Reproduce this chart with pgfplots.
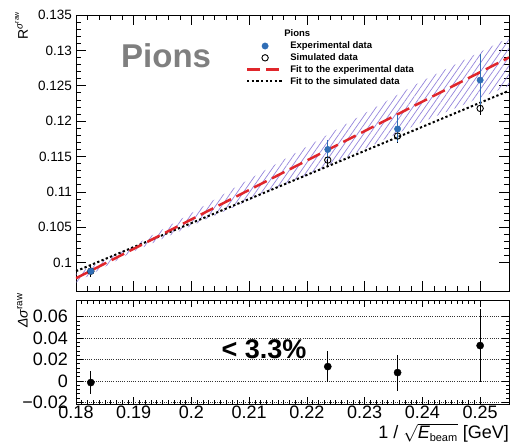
\documentclass[border=0pt]{standalone}
\usepackage{fontspec}
\setmainfont{Liberation Sans}
\usepackage{pgfplots}
\pgfplotsset{compat=1.18}
\usetikzlibrary{patterns.meta}

\definecolor{expblue}{HTML}{2F6DB5}
\definecolor{fitred}{HTML}{E0262B}
\definecolor{hatch}{HTML}{9484DC}
\definecolor{pgray}{HTML}{7F7F7F}

\pgfplotsset{
  legend mark code/.style={legend image code/.code={\draw[##1] plot coordinates {(18pt,0pt)};}},
  legend line code/.style={legend image code/.code={\draw[##1] (0pt,0pt) -- (36pt,0pt);}},
}

% x = 1/sqrt(E_beam), E_beam = 30, 20, 18, 16 GeV
\pgfplotstableread{
x        y       err
0.18257  0.0988  0.0005
0.22361  0.1160  0.0014
0.23570  0.1189  0.0019
0.25000  0.1258  0.0037
}\expdata
\pgfplotstableread{
x        y       err
0.18257  0.0988  0.0008
0.22361  0.1145  0.0009
0.23570  0.1179  0.0010
0.25000  0.1218  0.0010
}\simdata
\pgfplotstableread{
x        y       err
0.18257  -0.0015 0.0110
0.22361  0.0134  0.0143
0.23570  0.0078  0.0168
0.25000  0.0330  0.0337
}\reldiff
% linear fits
\pgfplotstableread{
x      exp      sim
0.180  0.0978   0.0988
0.190  0.10196  0.10220
0.200  0.10612  0.10560
0.210  0.11028  0.10900
0.220  0.11444  0.11240
0.230  0.11860  0.11580
0.240  0.12276  0.11920
0.255  0.12900  0.12430
}\fits
% uncertainty band of the experimental fit (upper edge, then lower edge back)
\pgfplotstableread{
x      y
0.180  0.0984
0.190  0.1024
0.200  0.1070
0.210  0.1118
0.220  0.1164
0.230  0.1211
0.240  0.1257
0.255  0.1318
0.255  0.1250
0.240  0.1199
0.230  0.1161
0.220  0.1124
0.210  0.1088
0.200  0.1052
0.190  0.1016
0.180  0.0972
}\band

\begin{document}
\begin{tikzpicture}
\path[use as bounding box] (0,0) rectangle (514pt,444pt);

% ---------------- upper panel ----------------
\begin{axis}[
  at={(76pt,153pt)}, anchor=south west,
  width=433pt, height=276pt, scale only axis,
  xmin=0.18, xmax=0.255, ymin=0.096, ymax=0.135,
  scaled x ticks=false, scaled y ticks=false,
  axis line style={line width=0.9pt},
  tick align=inside,
  major tick length=10pt, minor tick length=5pt,
  tick style={black, line width=0.7pt},
  xtick={0.18,0.19,0.20,0.21,0.22,0.23,0.24,0.25},
  xticklabels={},
  minor x tick num=4,
  ytick={0.1,0.105,0.11,0.115,0.12,0.125,0.13,0.135},
  yticklabels={0.1,0.105,0.11,0.115,0.12,0.125,0.13,0.135},
  minor y tick num=4,
  yticklabel style={font=\fontsize{13.5}{14}\selectfont, anchor=east, inner sep=0pt, xshift=-4pt},
  legend style={draw=none, fill=none, at={(0.385,0.955)}, anchor=north west,
    font=\fontsize{9.5}{11}\bfseries, row sep=2.6pt, column sep=0pt,
    nodes={inner sep=0pt, text height=7.2pt, text depth=2pt}},
  legend cell align=left,
]
\addlegendimage{empty legend}
\addlegendentry{Pions}
\addlegendimage{only marks, mark=*, mark size=3.2pt, color=expblue, legend mark code}
\addlegendentry{\hspace{6pt}Experimental data}
\addlegendimage{only marks, mark=o, mark size=3.2pt, black, line width=0.9pt, legend mark code}
\addlegendentry{\hspace{6pt}Simulated data}
\addlegendimage{fitred, line width=2.4pt, dash pattern=on 13pt off 6pt, legend line code}
\addlegendentry{\hspace{6pt}Fit to the experimental data}
\addlegendimage{black, line width=2pt, dash pattern=on 2.3pt off 2.3pt, legend line code}
\addlegendentry{\hspace{6pt}Fit to the simulated data}

% uncertainty band of the experimental fit
\addplot[forget plot, draw=none,
  pattern={Lines[angle=55, distance=5pt, line width=0.7pt]}, pattern color=hatch]
  table[x=x, y=y] {\band} -- cycle;

% fits
\addplot[forget plot, black, line width=2pt, dash pattern=on 2.3pt off 2.3pt]
  table[x=x, y=sim] {\fits};
\addplot[forget plot, fitred, line width=2.5pt, dash pattern=on 14pt off 6pt]
  table[x=x, y=exp] {\fits};

% simulated points
\addplot[forget plot, only marks, mark=o, mark size=3.2pt, black,
  mark options={line width=0.9pt},
  error bars/.cd, y dir=both, y explicit, error mark=none,
  error bar style={line width=0.8pt, black}]
  table[x=x, y=y, y error=err] {\simdata};
% experimental points
\addplot[forget plot, only marks, mark=*, mark size=3.2pt, color=expblue,
  error bars/.cd, y dir=both, y explicit, error mark=none,
  error bar style={line width=0.9pt, expblue}]
  table[x=x, y=y, y error=err] {\expdata};
\end{axis}

% ---------------- lower panel ----------------
\begin{axis}[
  at={(76pt,40pt)}, anchor=south west,
  width=433pt, height=104pt, scale only axis,
  xmin=0.18, xmax=0.255, ymin=-0.0215, ymax=0.0755,
  scaled x ticks=false, scaled y ticks=false,
  axis line style={line width=0.9pt},
  tick align=inside,
  major tick length=7pt, minor tick length=3.5pt,
  tick style={black, line width=0.7pt},
  xtick={0.18,0.19,0.20,0.21,0.22,0.23,0.24,0.25},
  xticklabels={0.18,0.19,0.2,0.21,0.22,0.23,0.24,0.25},
  minor x tick num=9,
  ytick={-0.02,0,0.02,0.04,0.06},
  yticklabels={−0.02,0,0.02,0.04,0.06},
  minor y tick num=4,
  xticklabel style={font=\fontsize{18}{19}\selectfont, inner sep=0pt, yshift=-1.5pt},
  yticklabel style={font=\fontsize{18}{19}\selectfont, anchor=east, inner sep=0pt, xshift=-8pt},
  ymajorgrids,
  major grid style={black!80, line width=0.6pt, dash pattern=on 1pt off 1.2pt},
]
\addplot[only marks, mark=*, mark size=3.6pt, black,
  error bars/.cd, y dir=both, y explicit, error mark=none,
  error bar style={line width=0.9pt, black}]
  table[x=x, y=y, y error=err] {\reldiff};
\end{axis}

% titles and annotations
\node[anchor=base west, text=pgray, font=\fontsize{33}{36}\bfseries, inner sep=0pt]
  at (121pt,376pt) {Pions};
\node[anchor=base, font=\fontsize{27}{30}\bfseries, inner sep=0pt]
  at (264pt,85pt) {< 3.3\%};
\node[rotate=90, anchor=south east, inner sep=0pt, font=\fontsize{14}{16}\selectfont]
  at (28pt,433pt) {R\textsuperscript{\textit{σ}\textsuperscript{raw}}};
\node[rotate=90, anchor=south east, inner sep=0pt, font=\fontsize{14}{16}\selectfont]
  at (28pt,151pt) {\textit{Δσ}\textsuperscript{raw}};
\node[anchor=base east, inner sep=0pt, font=\fontsize{18}{20}\selectfont]
  at (509pt,5.5pt) {1 / $\sqrt{\mbox{\itshape E}_{\mbox{\fontsize{11}{12}\selectfont beam}}}$ [GeV]};
\end{tikzpicture}
\end{document}
